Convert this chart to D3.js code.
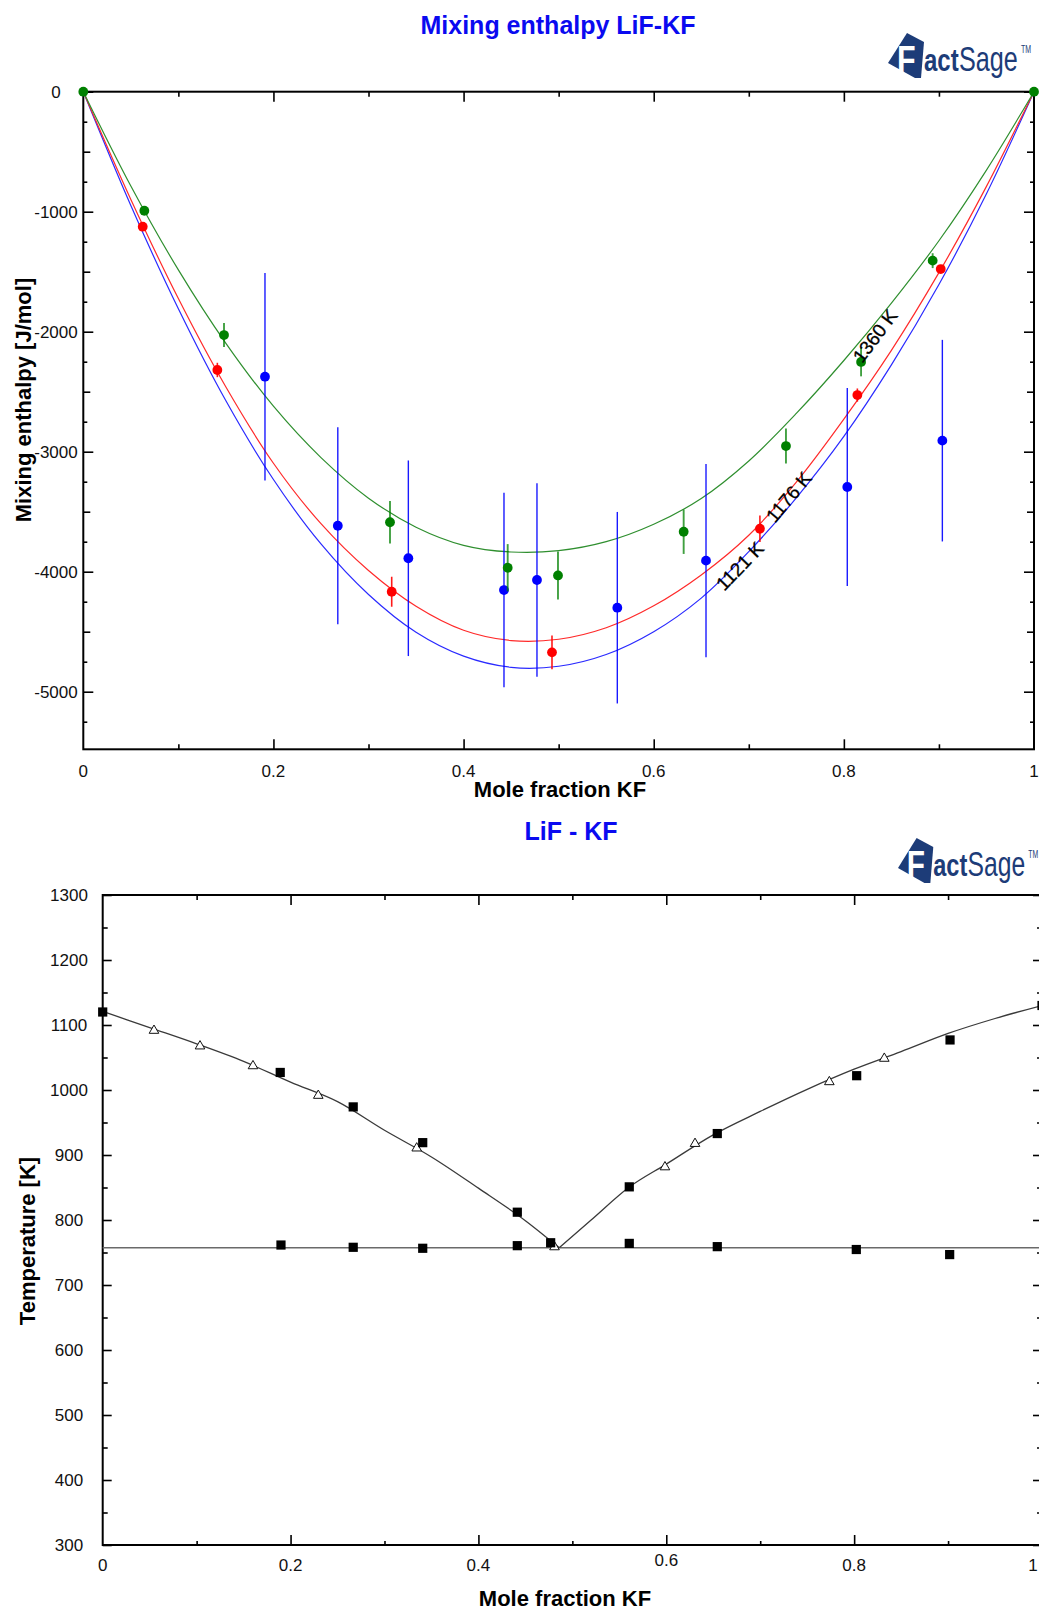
<!DOCTYPE html>
<html>
<head>
<meta charset="utf-8">
<script src="https://cdn.jsdelivr.net/npm/d3@7"></script>
<style>
  html, body { margin: 0; padding: 0; background: #fff; }
  svg { display: block; }
  text { font-family: "Liberation Sans", Arial, Helvetica, sans-serif; }
</style>
</head>
<body>
<svg id="fig" width="1039" height="1610"></svg>
<script>
// ---------- Mixing enthalpy LiF-KF : model curves ----------
const curveX = [0, 0.05, 0.10, 0.15, 0.20, 0.25, 0.30, 0.35, 0.40, 0.45, 0.50,
                0.55, 0.60, 0.65, 0.70, 0.75, 0.80, 0.85, 0.90, 0.95, 1.0];
const h1360 = [0, -786, -1485, -2097, -2621, -3049, -3387, -3629, -3780, -3836, -3825,
               -3750, -3605, -3390, -3077, -2681, -2240, -1762, -1242, -653, 0];
const h1176 = [0, -898, -1724, -2461, -3096, -3600, -3990, -4288, -4488, -4574, -4563,
               -4467, -4284, -4027, -3696, -3253, -2728, -2155, -1508, -789, 0];
const h1121 = [0, -948, -1809, -2576, -3232, -3769, -4190, -4505, -4704, -4797, -4788,
               -4690, -4500, -4220, -3833, -3384, -2872, -2276, -1607, -850, 0];

// ---------- measured enthalpies (x, H, error half-width) ----------
const greenX   = [0, 0.0642, 0.148, 0.3226, 0.4464, 0.4993, 0.6315, 0.7391, 0.8181, 0.8934, 1];
const greenH   = [0, -992, -2028, -3588, -3967, -4031, -3667, -2953, -2252, -1408, 0];
const greenErr = [0, 0, 100, 178, 197, 200, 185, 146, 120, 62, 0];

const redX   = [0.0625, 0.141, 0.3244, 0.4930, 0.7117, 0.8142, 0.9019];
const redH   = [-1125, -2319, -4167, -4672, -3642, -2528, -1478];
const redErr = [0, 60, 125, 140, 110, 55, 0];

const blueX   = [0.1911, 0.2677, 0.3419, 0.4425, 0.4772, 0.5617, 0.655, 0.8036, 0.9036];
const blueH   = [-2375, -3617, -3888, -4153, -4069, -4300, -3908, -3294, -2908];
const blueErr = [865, 820, 815, 810, 806, 798, 805, 825, 840];

// curve labels: text, anchor x, anchor H, angle
const curveLabels = [
  {t: "1360 K", x: 0.8328, h: -2036, a: -53},
  {t: "1176 K", x: 0.742,  h: -3378, a: -50},
  {t: "1121 K", x: 0.6906, h: -3953, a: -46}
];

// ---------- LiF - KF phase diagram ----------
const liqLeftX  = [0, 0.05, 0.10, 0.15, 0.20, 0.25, 0.30, 0.35, 0.40, 0.45, 0.486];
const liqLeftT  = [1121, 1096, 1071, 1044, 1012, 982, 938, 897, 849, 799, 757.4];
const liqRightX = [0.486, 0.52, 0.56, 0.60, 0.65, 0.70, 0.75, 0.80, 0.85, 0.90, 0.95, 1.0];
const liqRightT = [757.4, 800, 850, 886, 931, 967, 1001, 1032, 1059, 1087, 1110, 1130];
const eutecticT = 757.4;

const sqLiqX = [0, 0.189, 0.2667, 0.3407, 0.4414, 0.4769, 0.5606, 0.6543, 0.8027, 0.9021, 1.0];
const sqLiqT = [1120, 1027, 974, 919, 812, 765, 851, 933, 1022, 1077, 1130];
const sqEutX = [0.1898, 0.2667, 0.3407, 0.4414, 0.5606, 0.6543, 0.8023, 0.9017];
const sqEutT = [761.5, 758, 756.5, 760.5, 764, 759, 754.6, 746.8];
const triX = [0.0546, 0.1036, 0.1600, 0.2295, 0.3343, 0.481, 0.5986, 0.6306, 0.7736, 0.8321];
const triT = [1093, 1069, 1038.5, 993, 912, 760, 883, 919, 1014, 1050];

// tick labels
const xTickVals = [0, 0.2, 0.4, 0.6, 0.8, 1];
const xTickText = ["0", "0.2", "0.4", "0.6", "0.8", "1"];
const hTickVals = [0, -1000, -2000, -3000, -4000, -5000];
const tTickVals = [300, 400, 500, 600, 700, 800, 900, 1000, 1100, 1200, 1300];

// ======================================================
const svg = d3.select("#fig");

function tickSet(g, axisFn, scale, values, size, transform) {
  g.append("g")
    .attr("transform", transform)
    .call(axisFn(scale).tickValues(values).tickSize(-size).tickFormat(""))
    .call(s => s.select(".domain").remove())
    .call(s => s.selectAll("line").attr("stroke", "#000").attr("stroke-width", 1.6));
}

function logo(x, y, s) {
  const g = svg.append("g").attr("transform", `translate(${x},${y}) scale(${s},1)`);
  const navy = "#1d3c78";
  g.append("polygon").attr("points", "0,30 19,0 36,9 33,45 27,45").attr("fill", navy);
  g.append("text").attr("transform", "translate(9,40) scale(0.8,1)")
    .attr("font-size", 38).attr("font-weight", "bold").attr("fill", "#fff").text("F");
  g.append("text").attr("transform", "translate(36,38) scale(0.75,1)")
    .attr("font-size", 32).attr("font-weight", "bold").attr("fill", navy).text("act");
  g.append("text").attr("transform", "translate(71,38) scale(0.7,1)")
    .attr("font-size", 36).attr("fill", navy).text("Sage");
  g.append("text").attr("transform", "translate(133,20) scale(0.7,1)")
    .attr("font-size", 10).attr("fill", navy).text("TM");
}

// ---------------- top chart ----------------
{
  const L = 83.3, R = 1034, T = 91.7, B = 749.3;
  const x = d3.scaleLinear().domain([0, 1]).range([L, R]);
  const y = d3.scaleLinear().domain([-5480, 0]).range([B, T]);
  const g = svg.append("g");

  svg.append("text").attr("x", 558).attr("y", 34).attr("text-anchor", "middle")
    .attr("font-size", 25).attr("font-weight", "bold").attr("fill", "#0a0af0")
    .text("Mixing enthalpy LiF-KF");
  logo(888, 33, 1);

  // ticks
  tickSet(g, d3.axisLeft, y, d3.range(0, -5001, -1000), 10, `translate(${L},0)`);
  tickSet(g, d3.axisLeft, y, d3.range(-500, -5480, -1000), 7, `translate(${L},0)`);
  tickSet(g, d3.axisLeft, y, d3.range(-250, -5480, -500), 4, `translate(${L},0)`);
  tickSet(g, d3.axisRight, y, d3.range(0, -5001, -1000), 10, `translate(${R},0)`);
  tickSet(g, d3.axisRight, y, d3.range(-500, -5480, -1000), 7, `translate(${R},0)`);
  tickSet(g, d3.axisRight, y, d3.range(-250, -5480, -500), 4, `translate(${R},0)`);
  tickSet(g, d3.axisTop, x, [0.2, 0.4, 0.6, 0.8], 10, `translate(0,${T})`);
  tickSet(g, d3.axisTop, x, [0.1, 0.3, 0.5, 0.7, 0.9], 5, `translate(0,${T})`);
  tickSet(g, d3.axisBottom, x, [0.2, 0.4, 0.6, 0.8], 10, `translate(0,${B})`);
  tickSet(g, d3.axisBottom, x, [0.1, 0.3, 0.5, 0.7, 0.9], 5, `translate(0,${B})`);

  g.append("rect").attr("x", L).attr("y", T).attr("width", R - L).attr("height", B - T)
    .attr("fill", "none").attr("stroke", "#000").attr("stroke-width", 2);

  // tick labels
  g.selectAll(".yl").data(hTickVals).join("text")
    .attr("x", 56).attr("y", d => y(d)).attr("dy", "0.36em").attr("text-anchor", "middle")
    .attr("font-size", 17).attr("fill", "#111").text(d => d);
  g.selectAll(".xl").data(xTickVals).join("text")
    .attr("x", d => x(d)).attr("y", 777).attr("text-anchor", "middle")
    .attr("font-size", 17).attr("fill", "#111").text((d, i) => xTickText[i]);

  g.append("text").attr("x", 560).attr("y", 797).attr("text-anchor", "middle")
    .attr("font-size", 22).attr("font-weight", "bold").text("Mole fraction KF");
  g.append("text").attr("transform", "translate(31,400) rotate(-90)").attr("text-anchor", "middle")
    .attr("font-size", 22).attr("font-weight", "bold").text("Mixing enthalpy [J/mol]");

  // model curves
  const line = d3.line().x(d => x(d[0])).y(d => y(d[1])).curve(d3.curveCatmullRom.alpha(0.5));
  const curves = [
    {h: h1121, c: "#2a2aff"},
    {h: h1176, c: "#ff2a2a"},
    {h: h1360, c: "#2f8f2f"}
  ];
  curves.forEach(cv => {
    g.append("path").datum(curveX.map((v, i) => [v, cv.h[i]]))
      .attr("d", line).attr("fill", "none").attr("stroke", cv.c).attr("stroke-width", 1.2);
  });

  // measured points with error bars
  const series = [
    {x: blueX, h: blueH, e: blueErr, c: "#0000ff", w: 1.4},
    {x: redX, h: redH, e: redErr, c: "#ff0000", w: 1.6},
    {x: greenX, h: greenH, e: greenErr, c: "#008000", w: 1.9}
  ];
  series.forEach(s => {
    const pts = s.x.map((v, i) => ({x: v, h: s.h[i], e: s.e[i]}));
    g.append("g").selectAll("line").data(pts.filter(p => p.e > 0)).join("line")
      .attr("x1", p => x(p.x)).attr("x2", p => x(p.x))
      .attr("y1", p => y(p.h + p.e)).attr("y2", p => y(p.h - p.e))
      .attr("stroke", s.c).attr("stroke-opacity", s.c === "#008000" ? 0.75 : 0.9)
      .attr("stroke-width", s.w);
    g.append("g").selectAll("circle").data(pts).join("circle")
      .attr("cx", p => x(p.x)).attr("cy", p => y(p.h)).attr("r", 4.9).attr("fill", s.c);
  });

  // temperature labels on curves
  curveLabels.forEach(l => {
    g.append("text")
      .attr("transform", `translate(${x(l.x)},${y(l.h)}) rotate(${l.a})`)
      .attr("text-anchor", "middle").attr("dy", "0.35em")
      .attr("font-size", 19).attr("fill", "#000")
      .attr("stroke", "#000").attr("stroke-width", 0.3).text(l.t);
  });
}

// ---------------- bottom chart ----------------
{
  const L = 102.7, R = 1042, T = 895, B = 1545;
  const x = d3.scaleLinear().domain([0, 1]).range([L, R]);
  const y = d3.scaleLinear().domain([300, 1300]).range([B, T]);
  const g = svg.append("g");

  svg.append("text").attr("x", 571).attr("y", 840).attr("text-anchor", "middle")
    .attr("font-size", 25).attr("font-weight", "bold").attr("fill", "#0a0af0")
    .text("LiF - KF");
  logo(898, 838, 0.98);

  tickSet(g, d3.axisLeft, y, tTickVals, 9, `translate(${L},0)`);
  tickSet(g, d3.axisLeft, y, d3.range(350, 1300, 100), 5, `translate(${L},0)`);
  tickSet(g, d3.axisRight, y, tTickVals, 9, `translate(${R},0)`);
  tickSet(g, d3.axisRight, y, d3.range(350, 1300, 100), 5, `translate(${R},0)`);
  tickSet(g, d3.axisTop, x, [0.2, 0.4, 0.6, 0.8], 10, `translate(0,${T})`);
  tickSet(g, d3.axisTop, x, [0.1, 0.3, 0.5, 0.7, 0.9], 5, `translate(0,${T})`);
  tickSet(g, d3.axisBottom, x, [0.2, 0.4, 0.6, 0.8], 10, `translate(0,${B})`);
  tickSet(g, d3.axisBottom, x, [0.1, 0.3, 0.5, 0.7, 0.9], 4, `translate(0,${B})`);

  g.append("rect").attr("x", L).attr("y", T).attr("width", R - L).attr("height", B - T)
    .attr("fill", "none").attr("stroke", "#000").attr("stroke-width", 2);

  g.selectAll(".yl").data(tTickVals).join("text")
    .attr("x", 69).attr("y", d => y(d)).attr("dy", "0.36em").attr("text-anchor", "middle")
    .attr("font-size", 17).attr("fill", "#111").text(d => d);
  // the label at x = 1 sits at the page edge, so it is pulled in to stay readable
  g.selectAll(".xl").data(xTickVals).join("text")
    .attr("x", d => d === 1 ? 1033 : x(d))
    .attr("y", d => d === 0.6 ? 1566 : 1571).attr("text-anchor", "middle")
    .attr("font-size", 17).attr("fill", "#111").text((d, i) => xTickText[i]);

  g.append("text").attr("x", 565).attr("y", 1606).attr("text-anchor", "middle")
    .attr("font-size", 22).attr("font-weight", "bold").text("Mole fraction KF");
  g.append("text").attr("transform", "translate(35,1241) rotate(-90)").attr("text-anchor", "middle")
    .attr("font-size", 22).attr("font-weight", "bold").text("Temperature [K]");

  // eutectic line
  g.append("line").attr("x1", x(0)).attr("x2", x(1)).attr("y1", y(eutecticT)).attr("y2", y(eutecticT))
    .attr("stroke", "#6a6a6a").attr("stroke-width", 1.6);

  // liquidus branches
  const line = d3.line().x(d => x(d[0])).y(d => y(d[1])).curve(d3.curveMonotoneX);
  [[liqLeftX, liqLeftT], [liqRightX, liqRightT]].forEach(([xs, ts]) => {
    g.append("path").datum(xs.map((v, i) => [v, ts[i]]))
      .attr("d", line).attr("fill", "none").attr("stroke", "#3a3a3a").attr("stroke-width", 1.3);
  });

  // open triangles
  const tri = d3.symbol().type(d3.symbolTriangle).size(40);
  g.append("g").selectAll("path").data(triX.map((v, i) => [v, triT[i]])).join("path")
    .attr("transform", d => `translate(${x(d[0])},${y(d[1]) + 1})`)
    .attr("d", tri).attr("fill", "#fff").attr("stroke", "#111").attr("stroke-width", 1);

  // filled squares
  const sq = sqLiqX.map((v, i) => [v, sqLiqT[i]]).concat(sqEutX.map((v, i) => [v, sqEutT[i]]));
  g.append("g").selectAll("rect").data(sq).join("rect")
    .attr("x", d => x(d[0]) - 4.6).attr("y", d => y(d[1]) - 4.6)
    .attr("width", 9.2).attr("height", 9.2).attr("fill", "#000");
}
</script>
</body>
</html>
